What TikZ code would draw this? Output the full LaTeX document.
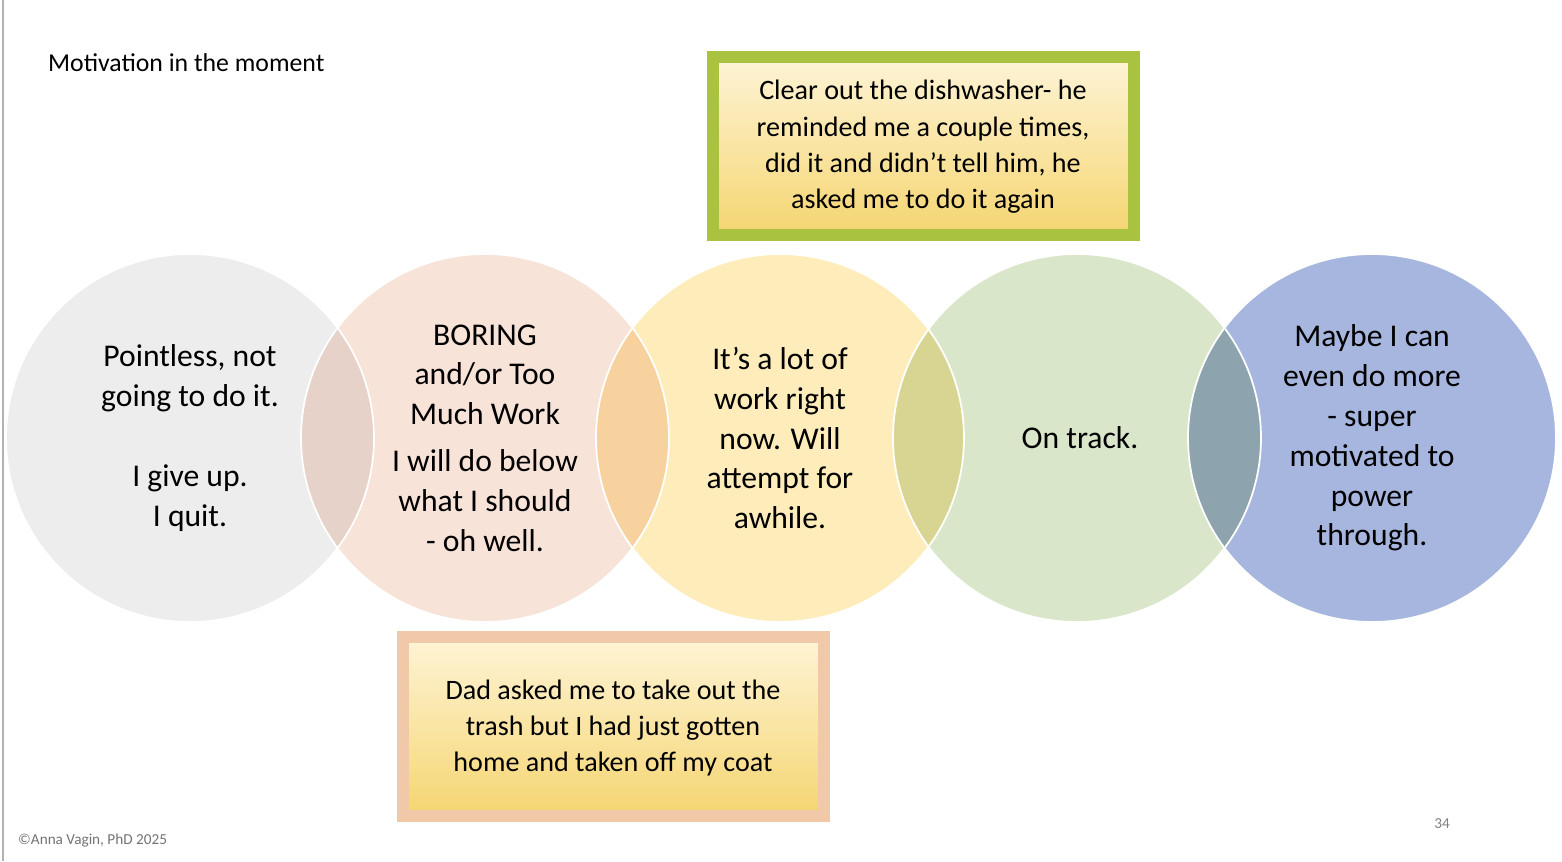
\documentclass[tikz,border=0pt]{standalone}
\usepackage{fontspec}
\setmainfont{Carlito}
\usetikzlibrary{positioning}
\definecolor{cGray}{HTML}{EDEDED}
\definecolor{cPeach}{HTML}{F8E3D8}
\definecolor{cYellow}{HTML}{FEEDBB}
\definecolor{cGreen}{HTML}{D9E6C9}
\definecolor{cBlue}{HTML}{A6B6DE}
\definecolor{cBoxTop}{HTML}{FEF4D6}
\definecolor{cBoxBot}{HTML}{F5D571}
\definecolor{cLime}{HTML}{A9C23F}
\definecolor{cSalmon}{HTML}{F2C9A8}
\tikzset{
	bubble/.style = {align=center, font=\fontsize{27}{34}\selectfont},
	story/.style = {align=center, font=\fontsize{24}{31}\selectfont, inner sep=0pt},
}
\begin{document}
\begin{tikzpicture}[x=0.03cm, y=-0.03cm]
	\useasboundingbox (0,0) rectangle (1562,861);
	\draw[gray!60, line width=1pt] (3,0) -- (3,861);
	% circles
	\begin{scope}[transparency group]
		\begin{scope}[blend mode=multiply]
			\fill[cGray] (190,438) circle (184);
			\fill[cPeach] (485,438) circle (184);
			\fill[cYellow] (780,438) circle (184);
			\fill[cGreen] (1077,438) circle (184);
			\fill[cBlue] (1372,438) circle (184);
		\end{scope}
	\end{scope}
	\foreach \cx in {190,485,780,1077,1372}
		\draw[white, line width=1.5pt] (\cx,438) circle (184);
	\node (Pointless) [bubble] at (190,438) {Pointless, not\\going to do it.\\[34pt]I give up.\\I quit.};
	\node (Boring) [bubble] at (485,438) {BORING\\and/or Too\\Much Work\\[6pt]I will do below\\what I should\\- oh well.};
	\node (Lot) [bubble] at (780,438) {It’s a lot of\\work right\\now. Will\\attempt for\\awhile.};
	\node (Track) [bubble] at (1080,438) {On track.};
	\node (More) [bubble] at (1372,438) {Maybe I can\\even do more\\- super\\motivated to\\power\\through.};
	% example boxes
	\draw[cLime, line width=10pt, top color=cBoxTop, bottom color=cBoxBot] (713,57) rectangle (1134,235);
	\node (Dish) [story] at (923,147) {Clear out the dishwasher- he\\reminded me a couple times,\\did it and didn’t tell him, he\\asked me to do it again};
	\draw[cSalmon, line width=10pt, top color=cBoxTop, bottom color=cBoxBot] (403,637) rectangle (824,816);
	\node (Trash) [story] at (613,728) {Dad asked me to take out the\\trash but I had just gotten\\home and taken off my coat};
	% labels
	\node (Title) [anchor=west, font=\fontsize{22}{26}\selectfont] at (44,63) {Motivation in the moment};
	\node (Credit) [anchor=west, font=\fontsize{13}{15}\selectfont, text=gray!90!black, inner sep=0pt] at (18,841) {©Anna Vagin, PhD 2025};
	\node (Page) [font=\fontsize{13}{15}\selectfont, text=gray] at (1442,824) {34};
\end{tikzpicture}
\end{document}
